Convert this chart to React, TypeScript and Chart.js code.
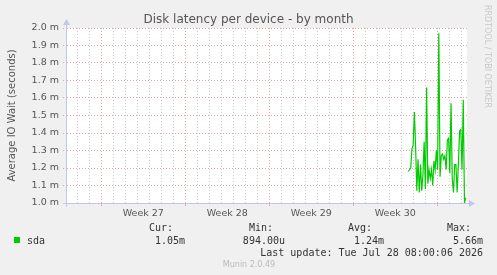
import { useEffect, useRef } from "react";
import { Chart, registerables } from "chart.js";

Chart.register(...registerables);

// ---- data ----
const chartTitle = "Disk latency per device - by month";
const yAxisTitle = "Average IO Wait (seconds)";
const sideText = "RRDTOOL / TOBI OETIKER";
const weekLabels = ["Week 27", "Week 28", "Week 29", "Week 30"];
const weekStartDays = [2.86, 9.86, 16.86, 23.86, 30.86];
const xRangeDays = [0, 33.333];
const yRange = [1.0, 2.0]; // milliseconds
const yStep = 0.1;

// sda average IO wait, in milliseconds
const sdaValues = [
  1.18, 1.19, 1.2, 1.31, 1.33, 1.52, 1.32, 1.07, 1.25, 1.06, 1.22, 1.07,
  1.16, 1.35, 1.08, 1.66, 1.11, 1.19, 1.14, 1.19, 1.1, 1.24, 1.19, 1.3,
  1.19, 1.97, 1.15, 1.27, 1.28, 1.25, 1.27, 1.19, 1.36, 1.37, 1.17, 1.57,
  1.14, 1.06, 1.22, 1.22, 1.06, 1.22, 1.41, 1.42, 1.19, 1.59, 1.0, 1.03,
];
const sdaStartDay = 28.44;
const sdaStepDays = 0.1018;

const legendHeaders = ["Cur:", "Min:", "Avg:", "Max:"];
const seriesName = "sda";
const sdaStats = ["1.05m", "894.00u", "1.24m", "5.66m"];
const lastUpdate = "Last update: Tue Jul 28 08:00:06 2026";
const versionText = "Munin 2.0.49";

// ---- styles ----
const GREEN = "#00cc00";
const MAJOR = "rgba(230,140,140,0.8)";
const MINOR = "rgba(200,200,200,0.9)";
const AXIS = "#c4c4f2";
const TEXT = "#555555";
const MONO = "'DejaVu Sans Mono', monospace";
const SANS = "'DejaVu Sans', sans-serif";

const isMid = (v: number) =>
  weekStartDays.findIndex((w) => Math.abs(w + 3.5 - v) < 1e-6);
const isWeek = (v: number) =>
  weekStartDays.some((w) => Math.abs(w - v) < 1e-6);

const muninPlugin = {
  id: "munin",
  beforeDraw(chart: any) {
    const { ctx, chartArea: a } = chart;
    ctx.save();
    ctx.fillStyle = "#f0f0f0";
    ctx.fillRect(0, 0, chart.width, chart.height);
    ctx.fillStyle = "#ffffff";
    ctx.fillRect(a.left, a.top, a.right - a.left, a.bottom - a.top);
    ctx.restore();
  },
  afterDraw(chart: any) {
    const { ctx, chartArea: a } = chart;
    ctx.save();
    // axes
    ctx.strokeStyle = AXIS;
    ctx.lineWidth = 1;
    ctx.beginPath();
    ctx.moveTo(a.left - 4, a.bottom + 0.5);
    ctx.lineTo(a.right + 3, a.bottom + 0.5);
    ctx.moveTo(a.left - 0.5, a.bottom + 4);
    ctx.lineTo(a.left - 0.5, a.top - 4);
    ctx.stroke();
    ctx.fillStyle = AXIS;
    ctx.beginPath();
    ctx.moveTo(a.right + 8, a.bottom + 0.5);
    ctx.lineTo(a.right + 2, a.bottom - 3);
    ctx.lineTo(a.right + 2, a.bottom + 4);
    ctx.closePath();
    ctx.fill();
    ctx.beginPath();
    ctx.moveTo(a.left - 0.5, a.top - 9);
    ctx.lineTo(a.left - 4, a.top - 3);
    ctx.lineTo(a.left + 3, a.top - 3);
    ctx.closePath();
    ctx.fill();

    // title
    ctx.fillStyle = TEXT;
    ctx.font = `12px ${SANS}`;
    ctx.textAlign = "center";
    ctx.textBaseline = "alphabetic";
    ctx.fillText(chartTitle, chart.width / 2, 23);

    // y axis title
    ctx.save();
    ctx.translate(15, (a.top + a.bottom) / 2);
    ctx.rotate(-Math.PI / 2);
    ctx.font = `10px ${SANS}`;
    ctx.textAlign = "center";
    ctx.fillText(yAxisTitle, 0, 0);
    ctx.restore();

    // side text
    ctx.save();
    ctx.translate(485, 5);
    ctx.rotate(Math.PI / 2);
    ctx.font = `8px ${SANS}`;
    ctx.fillStyle = "#c8c8c8";
    ctx.textAlign = "left";
    ctx.fillText(sideText, 0, 0);
    ctx.restore();

    // legend
    ctx.fillStyle = "#333333";
    ctx.font = `10px ${MONO}`;
    const headerX = [149, 249, 348, 447];
    const valueRight = [185, 285, 384, 483];
    ctx.textAlign = "left";
    legendHeaders.forEach((h, i) => ctx.fillText(h, headerX[i], 231));
    ctx.textAlign = "right";
    sdaStats.forEach((s, i) => ctx.fillText(s, valueRight[i], 243.5));
    ctx.fillText(lastUpdate, 483, 255.5);
    ctx.textAlign = "left";
    ctx.fillText(seriesName, 27, 243.5);
    ctx.fillStyle = GREEN;
    ctx.fillRect(14, 237, 6, 6);

    ctx.fillStyle = "#bbbbbb";
    ctx.font = `8px ${SANS}`;
    ctx.textAlign = "center";
    ctx.fillText(versionText, 249, 266.7);
    ctx.restore();
  },
};

export default function App() {
  const ref = useRef<HTMLCanvasElement | null>(null);

  useEffect(() => {
    if (!ref.current) return;
    const points = sdaValues.map((v, i) => ({
      x: sdaStartDay + i * sdaStepDays,
      y: v,
    }));
    const chart = new Chart(ref.current, {
      type: "line",
      data: {
        datasets: [
          {
            label: seriesName,
            data: points,
            borderColor: GREEN,
            borderWidth: 1.2,
            pointRadius: 0,
            tension: 0,
            fill: false,
          },
        ],
      },
      options: {
        animation: false,
        responsive: false,
        devicePixelRatio: 1,
        layout: { padding: { top: 28, right: 30, left: 0, bottom: 0 } },
        plugins: {
          legend: { display: false },
          title: { display: false },
          tooltip: { enabled: false },
        },
        scales: {
          x: {
            type: "linear",
            min: xRangeDays[0],
            max: xRangeDays[1],
            afterFit: (s: any) => {
              s.height = 72;
            },
            afterBuildTicks: (s: any) => {
              const ticks: { value: number }[] = [];
              for (let d = weekStartDays[0] - 2; d < xRangeDays[1]; d += 1) {
                ticks.push({ value: Math.round(d * 100) / 100 });
              }
              weekLabels.forEach((_, i) =>
                ticks.push({ value: weekStartDays[i] + 3.5 })
              );
              ticks.sort((p, q) => p.value - q.value);
              s.ticks = ticks;
            },
            border: { display: false, dash: [1, 2] },
            grid: {
              color: (c: any) => {
                const v = c.tick?.value ?? 0;
                if (isMid(v) >= 0) return "rgba(0,0,0,0)";
                return isWeek(v) ? MAJOR : MINOR;
              },
              tickColor: (c: any) => {
                const v = c.tick?.value ?? 0;
                return isWeek(v) ? MAJOR : "rgba(0,0,0,0)";
              },
              tickLength: 3,
              tickBorderDash: [],
              lineWidth: 1,
            },
            ticks: {
              autoSkip: false,
              maxRotation: 0,
              padding: 2,
              color: TEXT,
              font: { family: SANS, size: 9.5 },
              callback: (v: any) => {
                const i = isMid(Number(v));
                return i >= 0 ? weekLabels[i] : "";
              },
            },
          },
          y: {
            type: "linear",
            min: yRange[0],
            max: yRange[1],
            afterFit: (s: any) => {
              s.width = 67;
            },
            border: { display: false, dash: [1, 2] },
            grid: {
              color: MAJOR,
              tickColor: MAJOR,
              tickLength: 4,
              tickBorderDash: [1, 2],
              lineWidth: 1,
            },
            ticks: {
              stepSize: yStep,
              padding: 4,
              color: TEXT,
              font: { family: SANS, size: 9.5 },
              callback: (v: any) => `${Number(v).toFixed(1)} m`,
            },
          },
        },
      },
      plugins: [muninPlugin],
    });
    return () => chart.destroy();
  }, []);

  return (
    <div style={{ position: "absolute", left: 0, top: 0, width: 497, height: 275 }}>
      <canvas ref={ref} width={497} height={275} />
    </div>
  );
}
